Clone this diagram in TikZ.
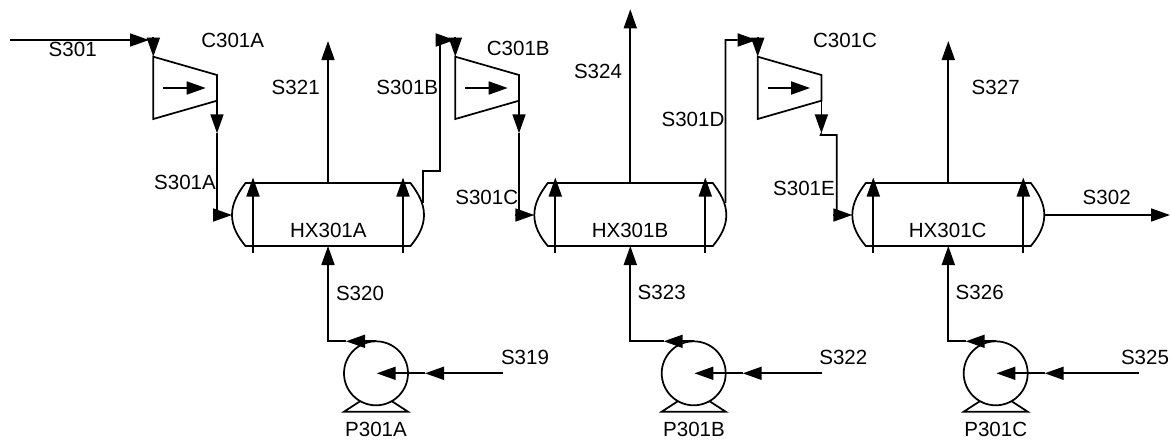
\documentclass[tikz,border=0pt]{standalone}
\usepackage{fontspec}
\setmainfont{Liberation Sans}
\usetikzlibrary{arrows.meta,calc}
\tikzset{
  pipe/.style={draw=black,line width=1.3pt,line join=miter},
  flow/.style={pipe,-{Triangle[length=14.25pt,width=9.75pt]}},
  lbl/.style={inner sep=0pt,font=\fontsize{15.4}{15.4}\selectfont,text=black},
  hx/.pic={
    \draw[pipe] (-82.5,-32) -- (82.5,-32)
      .. controls (90,-22) and (96,-12) .. (96,0)
      .. controls (96,12) and (90,22) .. (82.5,31)
      -- (-82.5,31)
      .. controls (-90,22) and (-96,12) .. (-96,0)
      .. controls (-96,-12) and (-90,-22) .. (-82.5,-32) -- cycle;
    \coordinate (-left) at (-96,0);
    \coordinate (-before) at (-115,0);
    \coordinate (-right) at (96,0);
    \coordinate (-rup) at (95.3,-12);
    \coordinate (-top) at (0,-32);
    \coordinate (-bot) at (0,31);
    \coordinate (-a1) at (-75,38);
    \coordinate (-b1) at (-75,-37.5);
    \coordinate (-a2) at (75,38);
    \coordinate (-b2) at (75,-37.5);
    \draw[flow] (-a1) -- (-b1);
    \draw[flow] (-a2) -- (-b2);
  },
  comp/.pic={
    \draw[pipe] (0,-31.3) -- (63.7,-13) -- (63.7,12.7) -- (0,31) -- cycle;
    \coordinate (-from) at (0,-51);
    \coordinate (-inlet) at (0,-31.3);
    \coordinate (-outlet) at (63.7,12.7);
    \coordinate (-tip) at (63.7,45.3);
    \coordinate (-m1) at (10,0);
    \coordinate (-m2) at (52.4,0);
    \draw[flow] (-m1) -- (-m2);
    \draw[flow] (-from) -- (-inlet);
    \draw[flow] (-outlet) -- (-tip);
  },
  pump/.pic={
    \draw[pipe] (0,0) circle[radius=32];
    \draw[pipe] (-16,28) -- (-32,38.4) -- (32,38.4) -- (16,28);
    \coordinate (-top) at (0,-32);
    \coordinate (-out) at (-30,-32);
    \coordinate (-gate) at (49,0);
    \coordinate (-inner) at (0.7,0);
    \draw[flow] (-top) -- (-out);
    \draw[flow] (-gate) -- (-inner);
  }
}
\begin{document}
\begin{tikzpicture}[x=0.75pt,y=-0.75pt]
\useasboundingbox (0,0) rectangle (1171,440);
\fill[white] (0,0) rectangle (1171,440);

\pic (hxA) at (328,215) {hx};
\pic (hxB) at (630.3,215) {hx};
\pic (hxC) at (948.3,215) {hx};
\pic (cA) at (153.3,88) {comp};
\pic (cB) at (455.3,88) {comp};
\pic (cC) at (757.7,88) {comp};
\pic (pA) at (376,373.3) {pump};
\pic (pB) at (693.7,373.3) {pump};
\pic (pC) at (995.7,373.3) {pump};

% free ends
\coordinate (s301start) at (10,40);
\coordinate (s301end) at (149,40);
\coordinate (s321end) at (328,41);
\coordinate (s324end) at (630.3,9.3);
\coordinate (s327end) at (948.3,41);
\coordinate (s302end) at (1170,215);
\coordinate (s319start) at (503,373.3);
\coordinate (s322start) at (821.7,373.3);
\coordinate (s325start) at (1139.3,373.3);
\coordinate (bknee1) at (423.3,171);
\coordinate (bknee2) at (440,171);
\coordinate (bknee3) at (440,40);
\coordinate (bbase) at (435.7,40);
\coordinate (btip) at (454.7,40);
\coordinate (dknee) at (725.6,40);
\coordinate (dbase) at (737.7,40);
\coordinate (dtip) at (756.7,40);
\coordinate (eknee1) at (820.7,135);
\coordinate (eknee2) at (836.7,135);
\coordinate (eknee3) at (836.7,215);

% streams
\draw[flow] (s301start) -- (s301end);
\draw[pipe] (cA-tip) -- (cA-tip |- hxA-left);
\draw[flow] (hxA-before) -- (hxA-left);
\draw[flow] (hxA-top) -- (s321end);
\draw[pipe] (hxA-rup) -- (bknee1) -- (bknee2) -- (bknee3);
\draw[flow] (bbase) -- (btip);
\draw[pipe] (cB-tip) -- (cB-tip |- hxB-left);
\draw[flow] (hxB-before) -- (hxB-left);
\draw[flow] (hxB-top) -- (s324end);
\draw[pipe] (hxB-rup) -- (dknee) -- (dbase);
\draw[flow] (dbase) -- (dtip);
\draw[pipe] (cC-tip) -- (eknee1) -- (eknee2) -- (eknee3);
\draw[flow] (hxC-before) -- (hxC-left);
\draw[flow] (hxC-top) -- (s327end);
\draw[flow] (hxC-right) -- (s302end);
\draw[flow] (pA-out) -| (hxA-bot);
\draw[flow] (pB-out) -| (hxB-bot);
\draw[flow] (pC-out) -| (hxC-bot);
\draw[flow] (s319start) -- (pA-gate);
\draw[flow] (s322start) -- (pB-gate);
\draw[flow] (s325start) -- (pC-gate);

% labels
\node[lbl] (l1) at (72.7,49.3) {S301};
\node[lbl] (l2) at (232.7,40) {C301A};
\node[lbl] (l3) at (295.7,87) {S321};
\node[lbl] (l4) at (407.3,87) {S301B};
\node[lbl] (l5) at (185,182) {S301A};
\node[lbl] (l6) at (328.3,230) {HX301A};
\node[lbl] (l7) at (360,293) {S320};
\node[lbl] (l8) at (525,357.3) {S319};
\node[lbl] (l9) at (376,429) {P301A};
\node[lbl] (l10) at (518.3,48.3) {C301B};
\node[lbl] (l11) at (598,71) {S324};
\node[lbl] (l12) at (693,119) {S301D};
\node[lbl] (l13) at (486.7,197.7) {S301C};
\node[lbl] (l14) at (630,230) {HX301B};
\node[lbl] (l15) at (661.7,292.7) {S323};
\node[lbl] (l16) at (843.3,357.3) {S322};
\node[lbl] (l17) at (694,429) {P301B};
\node[lbl] (l18) at (845,40) {C301C};
\node[lbl] (l19) at (995.7,87) {S327};
\node[lbl] (l20) at (804,188.7) {S301E};
\node[lbl] (l21) at (1106.7,197.7) {S302};
\node[lbl] (l22) at (947.7,230) {HX301C};
\node[lbl] (l23) at (979.7,292.7) {S326};
\node[lbl] (l24) at (1145,357.3) {S325};
\node[lbl] (l25) at (995.7,429) {P301C};
\end{tikzpicture}
\end{document}
